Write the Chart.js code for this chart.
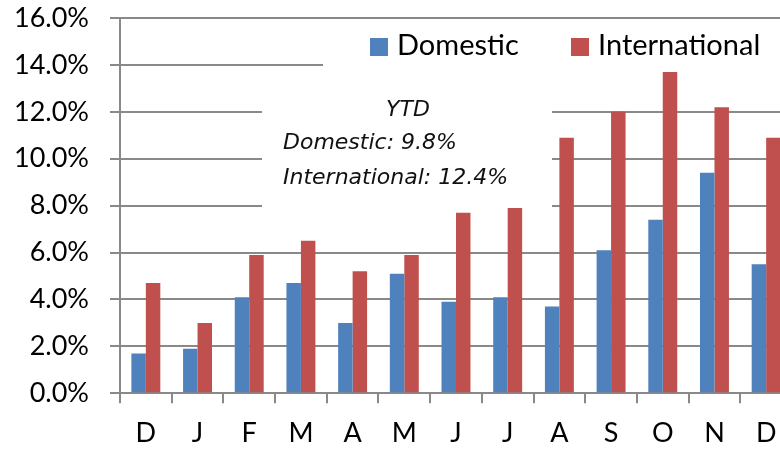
<!DOCTYPE html>
<html>
<head>
<meta charset="utf-8">
<script src="https://cdn.jsdelivr.net/npm/chart.js@4/dist/chart.umd.min.js"></script>
<style>
  html, body { margin: 0; padding: 0; overflow: hidden; background: #fff; width: 780px; height: 450px; }
  #wrap { position: relative; width: 792px; height: 450px; }
</style>
</head>
<body>
<div id="wrap"><canvas id="c" width="792" height="450"></canvas></div>
<script>
// Monthly growth rates (%)
const months = ['D', 'J', 'F', 'M', 'A', 'M', 'J', 'J', 'A', 'S', 'O', 'N', 'D'];
const domestic = [1.7, 1.9, 4.1, 4.7, 3.0, 5.1, 3.9, 4.1, 3.7, 6.1, 7.4, 9.4, 5.5];
const international = [4.7, 3.0, 5.9, 6.5, 5.2, 5.9, 7.7, 7.9, 10.9, 12.0, 13.7, 12.2, 10.9];
const seriesNames = ['Domestic', 'International'];
const seriesColors = ['#4F81BD', '#C0504D'];

// Year-to-date summary
const ytdTitle = 'YTD';
const ytdValues = [9.8, 12.4];

const yMin = 0, yMax = 16, yStep = 2;

const GRID = '#898989';
const LABEL_FONT = 'Lato, "Open Sans", sans-serif';
const NOTE_FONT = '"DejaVu Sans", sans-serif';

// Legend and YTD note sit on white panels over the gridlines, beneath the bars
const overlay = {
  id: 'overlay',
  beforeDatasetsDraw(chart) {
    const ctx = chart.ctx;
    ctx.save();
    ctx.fillStyle = '#fff';
    ctx.fillRect(323, 21, chart.width - 323, 48);
    ctx.fillRect(262, 84, 290, 145);

    // legend
    const legendX = [370, 571];
    ctx.font = '29px ' + LABEL_FONT;
    ctx.textBaseline = 'middle';
    ctx.textAlign = 'left';
    chart.data.datasets.forEach((ds, i) => {
      ctx.fillStyle = ds.backgroundColor;
      ctx.fillRect(legendX[i], 38, 18, 18);
      ctx.fillStyle = '#000';
      ctx.fillText(ds.label, legendX[i] + 27, 46);
    });

    // YTD note
    ctx.fillStyle = '#111';
    ctx.font = 'italic 22px ' + NOTE_FONT;
    ctx.textAlign = 'center';
    ctx.fillText(ytdTitle, 408, 110);
    ctx.textAlign = 'left';
    seriesNames.forEach((name, i) => {
      ctx.fillText(name + ': ' + ytdValues[i].toFixed(1) + '%', 283, 143 + i * 35);
    });
    ctx.restore();
  }
};

new Chart(document.getElementById('c'), {
  type: 'bar',
  data: {
    labels: months,
    datasets: [
      { label: seriesNames[0], data: domestic, backgroundColor: seriesColors[0] },
      { label: seriesNames[1], data: international, backgroundColor: seriesColors[1] }
    ]
  },
  options: {
    responsive: false,
    animation: false,
    devicePixelRatio: 1,
    layout: { padding: { top: 18, left: 0, right: 0, bottom: 0 } },
    datasets: { bar: { categoryPercentage: 0.56, barPercentage: 1.0, borderWidth: 0 } },
    plugins: { legend: { display: false }, tooltip: { enabled: false } },
    scales: {
      x: {
        grid: { offset: true, drawOnChartArea: false, color: GRID, lineWidth: 2, tickLength: 10 },
        border: { color: GRID, width: 2 },
        ticks: { color: '#000', font: { family: LABEL_FONT, size: 27 }, padding: 14, maxRotation: 0 },
        afterFit(scale) { scale.height = 56.7; }
      },
      y: {
        min: yMin, max: yMax,
        grid: { color: GRID, lineWidth: 2, tickLength: 10 },
        border: { color: GRID, width: 2 },
        ticks: {
          stepSize: yStep,
          color: '#000',
          font: { family: LABEL_FONT, size: 27 },
          padding: 21,
          callback: v => v.toFixed(1) + '%'
        },
        afterFit(scale) {
          scale.width = 120;
          scale.paddingTop = 0;
          scale.paddingBottom = 0;
        }
      }
    }
  },
  plugins: [overlay]
});
</script>
</body>
</html>
